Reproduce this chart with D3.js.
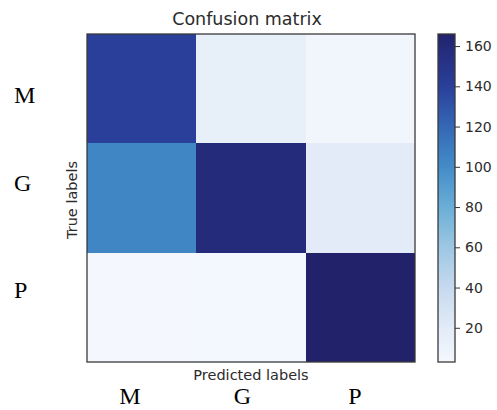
<!DOCTYPE html>
<html>
<head>
<meta charset="utf-8">
<script src="https://cdn.jsdelivr.net/npm/d3@7"></script>
<style>
  body { margin: 0; background: #fff; }
  text { font-family: "DejaVu Sans", sans-serif; fill: #2b2b2b; }
  .big { font-family: "Liberation Serif", "Times New Roman", serif; fill: #000; }
</style>
</head>
<body>
<svg></svg>
<script>
var width = 497;
var height = 410;

// data
var classes = ["M", "G", "P"];
var trueLabels = ["M", "G", "P"];
var predLabels = ["M", "G", "P"];
var rowM = [140, 15, 6];
var rowG = [104, 159, 20];
var rowP = [3, 4, 166];
var cbTicks = [20, 40, 60, 80, 100, 120, 140, 160];
var vmin = 3, vmax = 166;

// colour ramp
var rampValues = [3, 20, 40, 60, 80, 100, 120, 140, 160, 166];
var rampColors = ["#f4f8fe", "#e2ebf7", "#c6daef", "#9dc7e3", "#6aaed7", "#438cc8", "#3468b5", "#2a3f9a", "#232a78", "#22226a"];

var matrix = [rowM, rowG, rowP];
var cells = [];
matrix.forEach(function (row, i) {
    row.forEach(function (v, j) {
        cells.push({ t: trueLabels[i], p: predLabels[j], v: v });
    });
});

var svg = d3.select("svg")
    .attr("width", width)
    .attr("height", height);

var color = d3.scaleLinear().domain(rampValues).range(rampColors).clamp(true);

var x = d3.scaleBand().domain(classes).range([87, 415]);
var y = d3.scaleBand().domain(classes).range([34, 362]);

svg.append("g").selectAll("rect")
    .data(cells)
    .enter().append("rect")
    .attr("x", function (d) { return x(d.p); })
    .attr("y", function (d) { return y(d.t); })
    .attr("width", x.bandwidth())
    .attr("height", y.bandwidth())
    .attr("fill", function (d) { return color(d.v); })
    .attr("shape-rendering", "crispEdges");

svg.append("rect")
    .attr("x", 87).attr("y", 34)
    .attr("width", 328).attr("height", 328)
    .attr("fill", "none")
    .attr("stroke", "#3a3a3a")
    .attr("stroke-width", 1.3);

// title and axis names
svg.append("text")
    .attr("x", 247).attr("y", 25)
    .attr("text-anchor", "middle")
    .style("font-size", "17.5px")
    .text("Confusion matrix");

svg.append("text")
    .attr("transform", "translate(77,200) rotate(-90)")
    .attr("text-anchor", "middle")
    .style("font-size", "14.5px")
    .text("True labels");

svg.append("text")
    .attr("x", 251).attr("y", 380)
    .attr("text-anchor", "middle")
    .style("font-size", "14.5px")
    .text("Predicted labels");

// serif class labels
var rowPos = d3.scaleLinear().domain([0, 1, 2]).range([95, 183, 290]);
var colPos = d3.scalePoint().domain(predLabels).range([130, 355]);

svg.append("g").selectAll("text")
    .data(trueLabels)
    .enter().append("text")
    .attr("class", "big")
    .attr("x", 14)
    .attr("y", function (d, i) { return rowPos(i); })
    .attr("dy", "0.33em")
    .style("font-size", "24px")
    .text(function (d) { return d; });

svg.append("g").selectAll("text")
    .data(predLabels)
    .enter().append("text")
    .attr("class", "big")
    .attr("x", function (d) { return colPos(d); })
    .attr("y", 404)
    .attr("text-anchor", "middle")
    .style("font-size", "24px")
    .text(function (d) { return d; });

// colorbar
var cbX = 438, cbW = 17;
var cbScale = d3.scaleLinear().domain([vmin, vmax]).range([362, 34]);
var defs = svg.append("defs");
var grad = defs.append("linearGradient")
    .attr("id", "cbgrad")
    .attr("x1", 0).attr("y1", 1).attr("x2", 0).attr("y2", 0);
grad.selectAll("stop")
    .data(rampValues)
    .enter().append("stop")
    .attr("offset", function (d) { return (d - vmin) / (vmax - vmin); })
    .attr("stop-color", function (d) { return color(d); });

svg.append("rect")
    .attr("x", cbX).attr("y", cbScale(vmax))
    .attr("width", cbW).attr("height", cbScale(vmin) - cbScale(vmax))
    .attr("fill", "url(#cbgrad)")
    .attr("stroke", "#3a3a3a")
    .attr("stroke-width", 1.3);

var cbAxis = d3.axisRight(cbScale)
    .tickValues(cbTicks)
    .tickSize(5)
    .tickPadding(5);

var cbG = svg.append("g")
    .attr("transform", "translate(" + (cbX + cbW) + ",0)")
    .call(cbAxis);
cbG.select(".domain").remove();
cbG.selectAll("line").attr("stroke", "#333");
cbG.selectAll("text")
    .style("font-size", "14px")
    .style("font-family", "DejaVu Sans, sans-serif")
    .attr("fill", "#2b2b2b");
</script>
</body>
</html>
